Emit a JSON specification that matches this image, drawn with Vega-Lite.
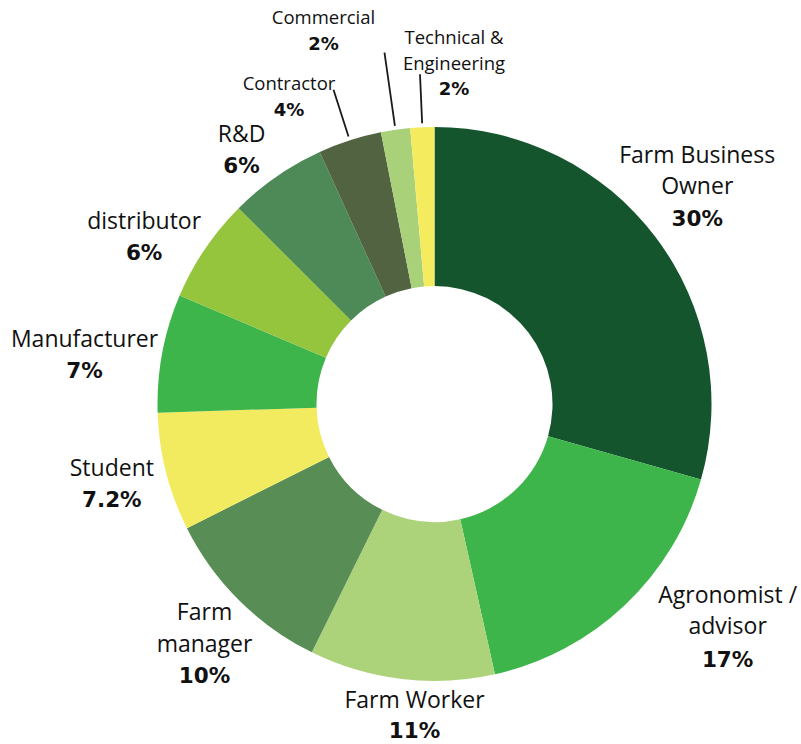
{
  "$schema": "https://vega.github.io/schema/vega-lite/v6.json",
  "width": 733,
  "height": 680,
  "padding": {"left": 68, "top": 64, "right": 0, "bottom": 0},
  "autosize": {"type": "none"},
  "background": "white",
  "view": {"stroke": null},
  "data": {
    "values": [
      {"rank": 1, "cat": "Farm Business Owner", "name": "Farm Business\nOwner", "pct": "30%", "value": 29.4},
      {"rank": 2, "cat": "Agronomist / advisor", "name": "Agronomist /\nadvisor", "pct": "17%", "value": 17.1},
      {"rank": 3, "cat": "Farm Worker", "name": "Farm Worker", "pct": "11%", "value": 10.8},
      {"rank": 4, "cat": "Farm manager", "name": "Farm\nmanager", "pct": "10%", "value": 10.3},
      {"rank": 5, "cat": "Student", "name": "Student", "pct": "7.2%", "value": 6.9},
      {"rank": 6, "cat": "Manufacturer", "name": "Manufacturer", "pct": "7%", "value": 6.9},
      {"rank": 7, "cat": "distributor", "name": "distributor", "pct": "6%", "value": 6.1},
      {"rank": 8, "cat": "R&D", "name": "R&D", "pct": "6%", "value": 5.7},
      {"rank": 9, "cat": "Contractor", "name": "Contractor", "pct": "4%", "value": 3.7},
      {"rank": 10, "cat": "Commercial", "name": "Commercial", "pct": "2%", "value": 1.7},
      {"rank": 11, "cat": "Technical & Engineering", "name": "Technical &\nEngineering", "pct": "2%", "value": 1.4}
    ]
  },
  "encoding": {
    "theta": {"field": "value", "type": "quantitative", "stack": true},
    "order": {"field": "rank", "type": "quantitative"}
  },
  "layer": [
    {
      "mark": {"type": "arc", "radius": 277, "radius2": 118},
      "encoding": {
        "color": {
          "field": "cat", "type": "nominal", "legend": null,
          "scale": {
            "domain": ["Farm Business Owner", "Agronomist / advisor", "Farm Worker", "Farm manager", "Student", "Manufacturer", "distributor", "R&D", "Contractor", "Commercial", "Technical & Engineering"],
            "range": ["#14552e", "#3db54a", "#acd27a", "#588e55", "#f3eb5f", "#3db54a", "#95c43d", "#4e8a58", "#516340", "#a8d17a", "#f4ec5e"]
          }
        }
      }
    },
    {
      "mark": {"type": "arc", "radius": 330, "radius2": 281, "padAngle": 1.5, "fillOpacity": 0, "stroke": "#1a1a1a", "strokeWidth": 1.8},
      "encoding": {"strokeOpacity": {"condition": {"test": "datum.rank == 9 || datum.rank == 11", "value": 1}, "value": 0}}
    },
    {
      "mark": {"type": "arc", "radius": 355, "radius2": 281, "padAngle": 1.5, "fillOpacity": 0, "stroke": "#1a1a1a", "strokeWidth": 1.8},
      "encoding": {"strokeOpacity": {"condition": {"test": "datum.rank == 10", "value": 1}, "value": 0}}
    },

    {"mark": {"type": "text", "radius": 326.8, "dx": 2, "dy": -43.6, "font": "Open Sans", "fontSize": 23, "lineHeight": 30.7, "lineBreak": "\n", "align": "center", "baseline": "alphabetic", "color": "#111"},
     "encoding": {"text": {"condition": {"test": "datum.rank == 1", "field": "name", "type": "nominal"}, "value": ""}}},
    {"mark": {"type": "text", "radius": 326.8, "dx": 2, "dy": 19.1, "font": "DejaVu Sans", "fontWeight": "bold", "fontSize": 21.5, "align": "center", "baseline": "alphabetic", "color": "#111"},
     "encoding": {"text": {"condition": {"test": "datum.rank == 1", "field": "pct", "type": "nominal"}, "value": ""}}},

    {"mark": {"type": "text", "radius": 383.4, "dx": 29.8, "dy": -79.4, "font": "Open Sans", "fontSize": 23, "lineHeight": 30.7, "lineBreak": "\n", "align": "center", "baseline": "alphabetic", "color": "#111"},
     "encoding": {"text": {"condition": {"test": "datum.rank == 2", "field": "name", "type": "nominal"}, "value": ""}}},
    {"mark": {"type": "text", "radius": 383.4, "dx": 29.8, "dy": -16, "font": "DejaVu Sans", "fontWeight": "bold", "fontSize": 21.5, "align": "center", "baseline": "alphabetic", "color": "#111"},
     "encoding": {"text": {"condition": {"test": "datum.rank == 2", "field": "pct", "type": "nominal"}, "value": ""}}},

    {"mark": {"type": "text", "radius": 319.6, "dx": 18.1, "dy": -13, "font": "Open Sans", "fontSize": 23, "lineHeight": 30.7, "lineBreak": "\n", "align": "center", "baseline": "alphabetic", "color": "#111"},
     "encoding": {"text": {"condition": {"test": "datum.rank == 3", "field": "name", "type": "nominal"}, "value": ""}}},
    {"mark": {"type": "text", "radius": 319.6, "dx": 18.1, "dy": 17, "font": "DejaVu Sans", "fontWeight": "bold", "fontSize": 21.5, "align": "center", "baseline": "alphabetic", "color": "#111"},
     "encoding": {"text": {"condition": {"test": "datum.rank == 3", "field": "pct", "type": "nominal"}, "value": ""}}},

    {"mark": {"type": "text", "radius": 349.4, "dx": 16.3, "dy": -31.8, "font": "Open Sans", "fontSize": 23, "lineHeight": 31.7, "lineBreak": "\n", "align": "center", "baseline": "alphabetic", "color": "#111"},
     "encoding": {"text": {"condition": {"test": "datum.rank == 4", "field": "name", "type": "nominal"}, "value": ""}}},
    {"mark": {"type": "text", "radius": 349.4, "dx": 16.3, "dy": 31.5, "font": "DejaVu Sans", "fontWeight": "bold", "fontSize": 21.5, "align": "center", "baseline": "alphabetic", "color": "#111"},
     "encoding": {"text": {"condition": {"test": "datum.rank == 4", "field": "pct", "type": "nominal"}, "value": ""}}},

    {"mark": {"type": "text", "radius": 334.2, "dx": 1.3, "dy": -10.4, "font": "Open Sans", "fontSize": 23, "align": "center", "baseline": "alphabetic", "color": "#111"},
     "encoding": {"text": {"condition": {"test": "datum.rank == 5", "field": "name", "type": "nominal"}, "value": ""}}},
    {"mark": {"type": "text", "radius": 334.2, "dx": 1.3, "dy": 20.6, "font": "DejaVu Sans", "fontWeight": "bold", "fontSize": 21.5, "align": "center", "baseline": "alphabetic", "color": "#111"},
     "encoding": {"text": {"condition": {"test": "datum.rank == 5", "field": "pct", "type": "nominal"}, "value": ""}}},

    {"mark": {"type": "text", "radius": 352.5, "dx": -3.5, "dy": 7.7, "font": "Open Sans", "fontSize": 23, "align": "center", "baseline": "alphabetic", "color": "#111"},
     "encoding": {"text": {"condition": {"test": "datum.rank == 6", "field": "name", "type": "nominal"}, "value": ""}}},
    {"mark": {"type": "text", "radius": 352.5, "dx": -3.5, "dy": 39, "font": "DejaVu Sans", "fontWeight": "bold", "fontSize": 21.5, "align": "center", "baseline": "alphabetic", "color": "#111"},
     "encoding": {"text": {"condition": {"test": "datum.rank == 6", "field": "pct", "type": "nominal"}, "value": ""}}},

    {"mark": {"type": "text", "radius": 331, "dx": -16, "dy": 10.5, "font": "Open Sans", "fontSize": 23, "align": "center", "baseline": "alphabetic", "color": "#111"},
     "encoding": {"text": {"condition": {"test": "datum.rank == 7", "field": "name", "type": "nominal"}, "value": ""}}},
    {"mark": {"type": "text", "radius": 331, "dx": -16, "dy": 41.2, "font": "DejaVu Sans", "fontWeight": "bold", "fontSize": 21.5, "align": "center", "baseline": "alphabetic", "color": "#111"},
     "encoding": {"text": {"condition": {"test": "datum.rank == 7", "field": "pct", "type": "nominal"}, "value": ""}}},

    {"mark": {"type": "text", "radius": 313.5, "dx": -14.3, "dy": -4.7, "font": "Open Sans", "fontSize": 23, "align": "center", "baseline": "alphabetic", "color": "#111"},
     "encoding": {"text": {"condition": {"test": "datum.rank == 8", "field": "name", "type": "nominal"}, "value": ""}}},
    {"mark": {"type": "text", "radius": 313.5, "dx": -14.3, "dy": 26.6, "font": "DejaVu Sans", "fontWeight": "bold", "fontSize": 21.5, "align": "center", "baseline": "alphabetic", "color": "#111"},
     "encoding": {"text": {"condition": {"test": "datum.rank == 8", "field": "pct", "type": "nominal"}, "value": ""}}},

    {"mark": {"type": "text", "radius": 334.3, "dx": -43.2, "dy": 3.8, "font": "Open Sans", "fontSize": 18.5, "align": "center", "baseline": "alphabetic", "color": "#111"},
     "encoding": {"text": {"condition": {"test": "datum.rank == 9", "field": "name", "type": "nominal"}, "value": ""}}},
    {"mark": {"type": "text", "radius": 334.3, "dx": -43.2, "dy": 30.3, "font": "DejaVu Sans", "fontWeight": "bold", "fontSize": 18, "align": "center", "baseline": "alphabetic", "color": "#111"},
     "encoding": {"text": {"condition": {"test": "datum.rank == 9", "field": "pct", "type": "nominal"}, "value": ""}}},

    {"mark": {"type": "text", "radius": 383.4, "dx": -57, "dy": -0.4, "font": "Open Sans", "fontSize": 18.5, "align": "center", "baseline": "alphabetic", "color": "#111"},
     "encoding": {"text": {"condition": {"test": "datum.rank == 10", "field": "name", "type": "nominal"}, "value": ""}}},
    {"mark": {"type": "text", "radius": 383.4, "dx": -57, "dy": 25.6, "font": "DejaVu Sans", "fontWeight": "bold", "fontSize": 18, "align": "center", "baseline": "alphabetic", "color": "#111"},
     "encoding": {"text": {"condition": {"test": "datum.rank == 10", "field": "pct", "type": "nominal"}, "value": ""}}},

    {"mark": {"type": "text", "radius": 334.6, "dx": 34.2, "dy": -25.4, "font": "Open Sans", "fontSize": 18.5, "lineHeight": 25.7, "lineBreak": "\n", "align": "center", "baseline": "alphabetic", "color": "#111"},
     "encoding": {"text": {"condition": {"test": "datum.rank == 11", "field": "name", "type": "nominal"}, "value": ""}}},
    {"mark": {"type": "text", "radius": 334.6, "dx": 34.2, "dy": 25.3, "font": "DejaVu Sans", "fontWeight": "bold", "fontSize": 18, "align": "center", "baseline": "alphabetic", "color": "#111"},
     "encoding": {"text": {"condition": {"test": "datum.rank == 11", "field": "pct", "type": "nominal"}, "value": ""}}}
  ]
}
